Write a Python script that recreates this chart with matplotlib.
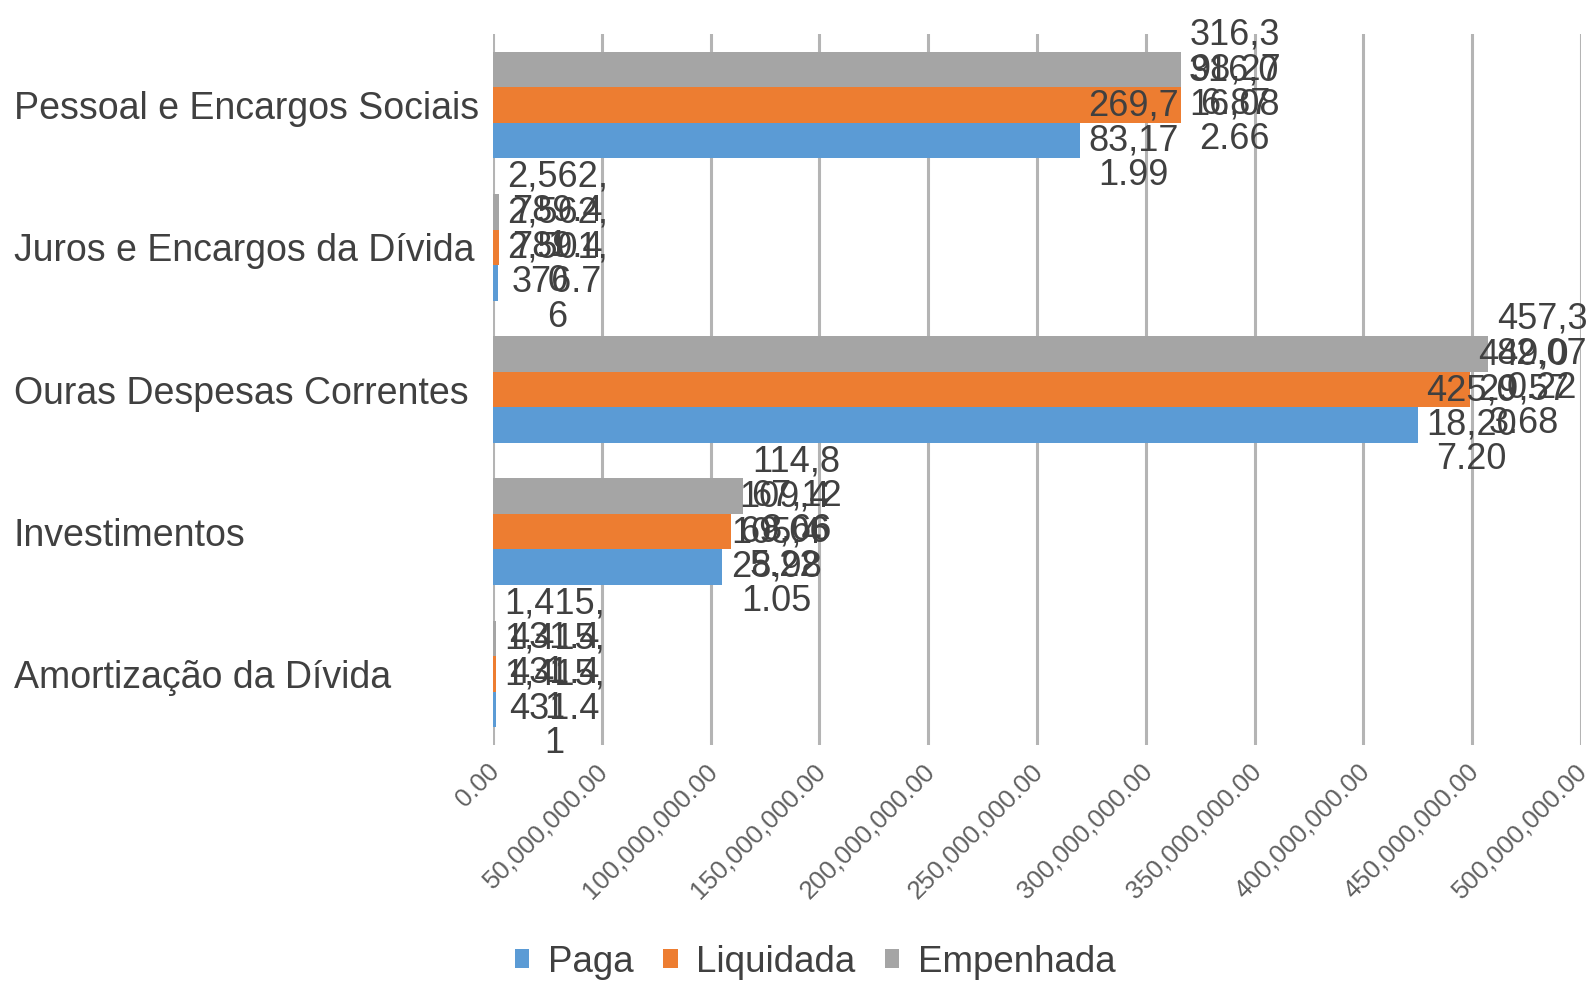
import numpy as np
import matplotlib
matplotlib.use('Agg')
import matplotlib.pyplot as plt
import matplotlib.transforms as mtransforms
from matplotlib.ticker import StrMethodFormatter

plt.rcParams['font.family'] = ['Liberation Sans', 'DejaVu Sans']

# dados
categorias = ['Pessoal e Encargos Sociais', 'Juros e Encargos da Dívida',
              'Ouras Despesas Correntes', 'Investimentos', 'Amortização da Dívida']
paga = [269783171.99, 2501376.76, 425018207.20, 105428981.05, 1415431.41]
liquidada = [316016082.66, 2562789.40, 449029573.68, 109469065.22, 1415431.41]
empenhada = [316398276.87, 2562789.41, 457382070.22, 114867128.66, 1415431.41]

AZUL = '#5B9BD5'
LARANJA = '#ED7D31'
CINZA = '#A5A5A5'
TEXTO = '#404040'


def quebra(s, limite=2.9):
    # quebra o rotulo como o Excel faz (largura fixa da caixa)
    larg = {',': 0.278, '.': 0.278}
    linhas, atual, w = [], '', 0.0
    for c in s:
        cw = larg.get(c, 0.556)
        if w + cw > limite and atual:
            linhas.append(atual)
            atual, w = '', 0.0
        atual += c
        w += cw
    linhas.append(atual)
    return '\n'.join(linhas)


fig = plt.figure(figsize=(15.93, 9.83), dpi=100)
ax = fig.add_axes([493/1593, 1-745/983, (1581-493)/1593, (745-34)/983])

y = np.arange(len(categorias))
h = 0.25
series = [(paga, 'Paga', AZUL, h), (liquidada, 'Liquidada', LARANJA, 0),
          (empenhada, 'Empenhada', CINZA, -h)]
for valores, nome, cor, off in series:
    ax.barh(y + off, valores, h, color=cor, label=nome, zorder=2)
    for yi, v in zip(y + off, valores):
        ax.annotate(quebra('{:,.2f}'.format(v)), xy=(v, yi), xytext=(6, 0),
                    textcoords='offset points', ha='left', va='center',
                    multialignment='center', linespacing=0.98,
                    fontsize=26, color=TEXTO, zorder=3)

ax.set_ylim(len(categorias) - 0.5, -0.5)
ax.set_xlim(0, 500e6)
ax.set_xticks(np.arange(0, 500e6 + 1, 50e6))
ax.xaxis.set_major_formatter(StrMethodFormatter('{x:,.2f}'))
ax.grid(axis='x', color='#b4b4b4', lw=2.2, zorder=1)
ax.set_axisbelow(True)
for s in ax.spines.values():
    s.set_visible(False)

ax.set_yticks(y, categorias)
for lbl in ax.get_yticklabels():
    lbl.set_ha('left')
ax.tick_params(axis='y', length=0, pad=345, labelsize=27, labelcolor=TEXTO)
ax.tick_params(axis='x', length=0, pad=10, labelsize=18.5, labelcolor='#606060')
desloc = mtransforms.ScaledTranslation(-6/100, 0, fig.dpi_scale_trans)
for lbl in ax.get_xticklabels():
    lbl.set_rotation(45)
    lbl.set_ha('right')
    lbl.set_rotation_mode('anchor')
    lbl.set_transform(lbl.get_transform() + desloc)

handles, labels = ax.get_legend_handles_labels()
fig.legend(handles, labels, loc='center', bbox_to_anchor=(815/1593, 1-962/983),
           ncol=3, frameon=False, fontsize=26.5, handlelength=0.4, handleheight=0.4,
           handletextpad=0.5, columnspacing=0.8, labelcolor=TEXTO)

plt.savefig('out.png', dpi=100)
